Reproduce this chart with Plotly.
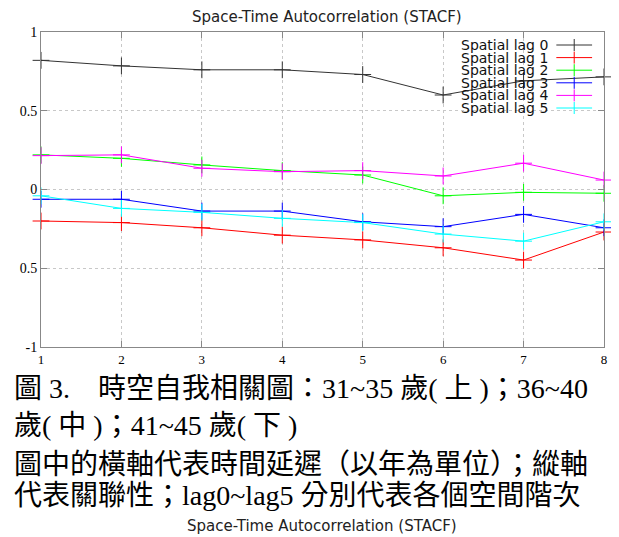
import plotly.graph_objects as go

# ---- data ----
time_lags = [1, 2, 3, 4, 5, 6, 7, 8]
series_names = ["Spatial lag 0", "Spatial lag 1", "Spatial lag 2",
                "Spatial lag 3", "Spatial lag 4", "Spatial lag 5"]
lag0 = [0.82, 0.785, 0.76, 0.76, 0.73, 0.60, 0.69, 0.715]
lag1 = [-0.20, -0.21, -0.243, -0.29, -0.32, -0.37, -0.448, -0.27]
lag2 = [0.22, 0.198, 0.156, 0.12, 0.092, -0.04, -0.018, -0.024]
lag3 = [-0.062, -0.062, -0.137, -0.137, -0.205, -0.236, -0.158, -0.243]
lag4 = [0.215, 0.22, 0.135, 0.113, 0.12, 0.086, 0.167, 0.06]
lag5 = [-0.04, -0.12, -0.145, -0.183, -0.21, -0.283, -0.328, -0.205]
series_values = [lag0, lag1, lag2, lag3, lag4, lag5]
colors = ["#333333", "#ff0000", "#00ff00", "#0000ff", "#ff00ff", "#00ffff"]

y_tick_vals = [-1, -0.5, 0, 0.5, 1]
y_tick_text = ["-1", "0.5", "0", "0.5", "1"]
x_tick_text = ["1", "2", "3", "4", "5", "6", "7", "8"]

chart_title = "Space-Time Autocorrelation (STACF)"
caption_lines = [
    "圖 3.\u3000時空自我相關圖：31~35 歲( 上 )；36~40",
    "歲( 中 )；41~45 歲( 下 )",
    "圖中的橫軸代表時間延遲（以年為單位）；縱軸",
    "代表關聯性；lag0~lag5 分別代表各個空間階次",
]

# ---- layout geometry (window pixels; page body has an 8px margin) ----
OFF = 8
WIN_W, WIN_H = 619, 537
W, H = WIN_W - OFF, WIN_H - OFF
PLOT_L, PLOT_R, PLOT_T, PLOT_B = 39, 606, 32, 347  # in window pixels
L = PLOT_L - OFF
T = PLOT_T - OFF
R = W - (PLOT_R - OFF)
B = H - (PLOT_B - OFF)
PW, PH = PLOT_R - PLOT_L, PLOT_B - PLOT_T


def px(x):
    return (x - PLOT_L) / PW


def py(y):
    return (PLOT_B - y) / PH


fig = go.Figure()
for name, vals, col in zip(series_names, series_values, colors):
    fig.add_trace(go.Scatter(
        x=time_lags, y=vals, mode="lines+markers", name=name,
        line=dict(color=col, width=1),
        marker=dict(symbol="cross-thin-open", size=12,
                    line=dict(color=col, width=1)),
        showlegend=False, cliponaxis=False,
    ))

annotations = []
shapes = []
# gnuplot-style key: text right-aligned, sample to its right
leg_rows = [45, 57.6, 70.2, 82.8, 95.4, 108]
for name, col, ry in zip(series_names, colors, leg_rows):
    annotations.append(dict(
        x=px(552), y=py(ry), xref="paper", yref="paper",
        xanchor="right", yanchor="middle", showarrow=False, text=name,
        font=dict(family="DejaVu Sans", size=14, color="#111111")))
    shapes.append(dict(type="line", xref="paper", yref="paper",
                       x0=px(558), x1=px(594), y0=py(ry), y1=py(ry),
                       line=dict(color=col, width=1)))
    shapes.append(dict(type="line", xref="paper", yref="paper",
                       x0=px(576), x1=px(576), y0=py(ry - 6), y1=py(ry + 6),
                       line=dict(color=col, width=1)))

annotations.append(dict(
    x=px(327), y=py(17), xref="paper", yref="paper", xanchor="center",
    yanchor="middle", showarrow=False, text=chart_title,
    font=dict(family="DejaVu Sans", size=15, color="#222222")))

cap_y = [388, 425, 464, 495]
for line, cy in zip(caption_lines, cap_y):
    annotations.append(dict(
        x=px(10), y=py(cy), xref="paper", yref="paper", xanchor="left",
        yanchor="middle", showarrow=False, text=line,
        font=dict(family="Liberation Serif, Noto Sans CJK TC", size=28,
                  color="#000000")))

annotations.append(dict(
    x=px(322), y=py(526), xref="paper", yref="paper", xanchor="center",
    yanchor="middle", showarrow=False, text=chart_title,
    font=dict(family="DejaVu Sans", size=15, color="#222222")))

axis_common = dict(
    showline=True, linecolor="#888888", linewidth=1, mirror="ticks",
    ticks="inside", ticklen=6, tickcolor="#888888",
    showgrid=True, gridcolor="#c8c8c8", griddash="dot", gridwidth=1,
    zeroline=False,
)

fig.update_layout(
    width=W, height=H,
    margin=dict(l=L, r=R, t=T, b=B),
    paper_bgcolor="white", plot_bgcolor="white",
    xaxis=dict(range=[1, 8], tickvals=time_lags, ticktext=x_tick_text,
               tickfont=dict(family="Liberation Serif", size=13, color="#000"),
               **axis_common),
    yaxis=dict(range=[-1, 1], tickvals=y_tick_vals, ticktext=y_tick_text,
               tickfont=dict(family="Liberation Serif", size=14, color="#000"),
               **axis_common),
    annotations=annotations,
    shapes=shapes,
)

fig.write_html("out.html")
